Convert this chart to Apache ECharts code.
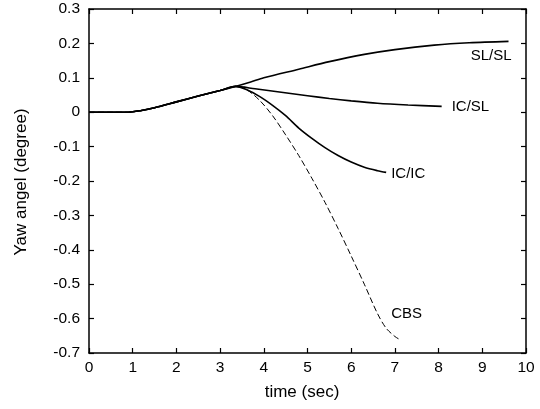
<!DOCTYPE html>
<html>
<head>
<meta charset="utf-8">
<script src="https://cdn.jsdelivr.net/npm/echarts@6/dist/echarts.min.js"></script>
<style>
  html, body { margin: 0; padding: 0; background: #fff; }
  #chart { width: 540px; height: 409px; }
</style>
</head>
<body>
<div id="chart"></div>
<script>
// Shared initial response (all controllers identical until ~3.35 s)
const baseTime = [0, 0.5, 0.9, 1.2, 1.5, 2.0, 2.5, 3.0, 3.35];
const baseYaw  = [0, 0, 0, 0.005, 0.013, 0.030, 0.047, 0.063, 0.075];

// Branches after the split
const slslTime = [3.7, 4.0, 4.8, 5.5, 6.3, 7.0, 7.9, 8.7, 9.6];
const slslYaw  = [0.088, 0.100, 0.125, 0.147, 0.168, 0.182, 0.195, 0.202, 0.206];

const icslTime = [3.8, 4.4, 5.0, 5.5, 6.0, 6.6, 7.3, 8.07];
const icslYaw  = [0.068, 0.058, 0.048, 0.040, 0.033, 0.026, 0.021, 0.017];

const icicTime = [3.6, 3.9, 4.2, 4.5, 4.8, 5.1, 5.4, 5.7, 6.0, 6.3, 6.6, 6.8];
const icicYaw  = [0.066, 0.046, 0.020, -0.010, -0.046, -0.076, -0.103, -0.126, -0.145, -0.160, -0.170, -0.175];

const cbsTime = [3.6, 3.9, 4.2, 4.5, 4.8, 5.1, 5.4, 5.7, 6.0, 6.3, 6.6, 6.8, 7.0, 7.1];
const cbsYaw  = [0.066, 0.035, -0.010, -0.066, -0.126, -0.192, -0.262, -0.338, -0.418, -0.500, -0.585, -0.628, -0.652, -0.660];

const seriesNames = ['SL/SL', 'IC/SL', 'IC/IC', 'CBS'];
const xTicks = [0, 1, 2, 3, 4, 5, 6, 7, 8, 9, 10];
const yTicks = [-0.7, -0.6, -0.5, -0.4, -0.3, -0.2, -0.1, 0, 0.1, 0.2, 0.3];

function zipPts(ts, ys) { return ts.map((t, i) => [t, ys[i]]); }
function withBase(ts, ys) { return zipPts(baseTime, baseYaw).concat(zipPts(ts, ys)); }

const FONT = '"Liberation Sans", Arial, sans-serif';
const chart = echarts.init(document.getElementById('chart'), null, { renderer: 'canvas' });

const axisCommon = {
  axisLine: { show: true, onZero: false, lineStyle: { color: '#000', width: 1.5 } },
  axisTick: { show: true, inside: true, length: 5, lineStyle: { color: '#000', width: 1.2 } },
  splitLine: { show: false }
};

const labelStyle = { color: '#000', fontFamily: FONT, fontSize: 15 };

function lineSeries(name, data, dashed, labelOpt) {
  return {
    name: name,
    type: 'line',
    data: data,
    smooth: 0.3,
    showSymbol: false,
    symbol: 'none',
    lineStyle: dashed
      ? { color: '#000', width: 1, type: [6, 3] }
      : { color: '#000', width: 1.6 },
    endLabel: Object.assign({ show: true, formatter: name }, labelStyle, labelOpt),
    animation: false
  };
}

chart.setOption({
  backgroundColor: '#fff',
  animation: false,
  grid: { left: 89, right: 14, top: 9, bottom: 56, containLabel: false },
  xAxis: [
    Object.assign({
      type: 'value', min: 0, max: 10, interval: 1, position: 'bottom',
      axisLabel: Object.assign({ margin: 7 }, labelStyle, { fontSize: 15.5 })
    }, axisCommon),
    Object.assign({
      type: 'value', min: 0, max: 10, interval: 1, position: 'top',
      axisLabel: { show: false }
    }, axisCommon)
  ],
  yAxis: [
    Object.assign({
      type: 'value', min: -0.7, max: 0.3, interval: 0.1, position: 'left',
      axisLabel: Object.assign({ margin: 9, formatter: v => {
        const r = Math.round(v * 10) / 10;
        return r === 0 ? '0' : String(r);
      } }, labelStyle, { fontSize: 15.5 })
    }, axisCommon),
    Object.assign({
      type: 'value', min: -0.7, max: 0.3, interval: 0.1, position: 'right',
      axisLabel: { show: false }
    }, axisCommon)
  ],
  graphic: [
    { type: 'text', x: 302, y: 392,
      style: { text: 'time (sec)', fill: '#000', font: '17px ' + FONT,
               align: 'center', verticalAlign: 'middle' } },
    { type: 'text', x: 21, y: 182, rotation: Math.PI / 2,
      style: { text: 'Yaw angel (degree)', fill: '#000', font: '17px ' + FONT,
               align: 'center', verticalAlign: 'middle' } }
  ],
  series: [
    lineSeries(seriesNames[0], withBase(slslTime, slslYaw), false,
      { align: 'right', distance: 0, offset: [3, 15] }),
    lineSeries(seriesNames[1], withBase(icslTime, icslYaw), false,
      { align: 'left', distance: 10, offset: [0, 1] }),
    lineSeries(seriesNames[2], withBase(icicTime, icicYaw), false,
      { align: 'left', distance: 5, offset: [0, 1] }),
    lineSeries(seriesNames[3], withBase(cbsTime, cbsYaw), true,
      { align: 'left', distance: 0, offset: [-8, -25] })
  ]
});
</script>
</body>
</html>
